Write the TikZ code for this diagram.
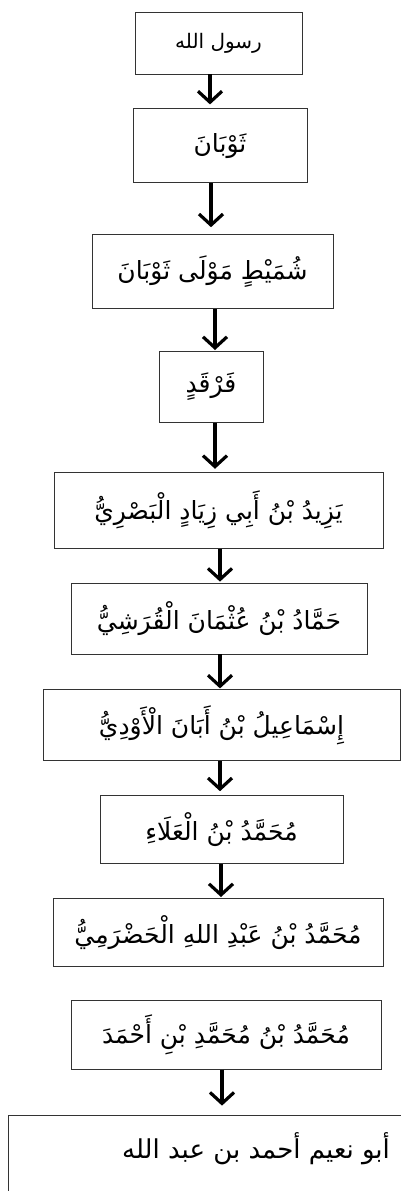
\documentclass[tikz,border=0pt]{standalone}
\usepackage{fontspec}
\newfontfamily\arabicfont[Script=Arabic]{DejaVu Sans}
\TeXXeTstate=1
\usetikzlibrary{positioning,arrows.meta}
\newcommand{\arb}[1]{\beginR #1\endR}

\begin{document}
\begin{tikzpicture}[x=1pt, y=1pt,
  isnad/.style={draw=black!80, line width=0.8pt, inner sep=0pt,
    font=\arabicfont\fontsize{25}{30}\selectfont},
  flow/.style={line width=3.2pt, line join=miter,
    -{Straight Barb[length=11pt, width=24pt]}}]

  \useasboundingbox (0,0) rectangle (401,-1191);

  \node[isnad, minimum width=167pt, minimum height=62pt,
    font=\arabicfont\fontsize{20}{24}\selectfont] (b1) at (218.5,-43) {\arb{رسول الله}};
  \node[isnad, minimum width=174pt, minimum height=74pt, below=34pt of b1, xshift=1.5pt] (b2) {\arb{ثَوْبَانَ}};
  \node[isnad, minimum width=241pt, minimum height=74pt, below=51pt of b2, xshift=-7.5pt] (b3) {\arb{شُمَيْطٍ مَوْلَى ثَوْبَانَ}};
  \node[isnad, minimum width=104pt, minimum height=71pt, below=42pt of b3, xshift=-1.5pt] (b4) {\arb{فَرْقَدٍ}};
  \node[isnad, minimum width=329pt, minimum height=76pt, below=49pt of b4, xshift=7.5pt] (b5) {\arb{يَزِيدُ بْنُ أَبِي زِيَادٍ الْبَصْرِيُّ}};
  \node[isnad, minimum width=296pt, minimum height=71pt, below=34pt of b5, xshift=0.5pt] (b6) {\arb{حَمَّادُ بْنُ عُثْمَانَ الْقُرَشِيُّ}};
  \node[isnad, minimum width=357pt, minimum height=71pt, below=35pt of b6, xshift=2.5pt] (b7) {\arb{إِسْمَاعِيلُ بْنُ أَبَانَ الْأَوْدِيُّ}};
  \node[isnad, minimum width=243pt, minimum height=68pt, below=34pt of b7] (b8) {\arb{مُحَمَّدُ بْنُ الْعَلَاءِ}};
  \node[isnad, minimum width=330pt, minimum height=68pt, below=34pt of b8, xshift=-3.5pt] (b9) {\arb{مُحَمَّدُ بْنُ عَبْدِ اللهِ الْحَضْرَمِيُّ}};
  % no arrow between these two
  \node[isnad, minimum width=310pt, minimum height=69pt, below=33pt of b9, xshift=8pt] (b10) {\arb{مُحَمَّدُ بْنُ مُحَمَّدِ بْنِ أَحْمَدَ}};
  \node[isnad, minimum width=496pt, text height=43pt, text depth=100pt,
    font=\arabicfont\fontsize{26}{31}\selectfont, below=45pt of b10, xshift=30pt] (b11) {\arb{أبو نعيم أحمد بن عبد الله}};

  \foreach \a/\b/\d/\s in {b1/b2/-8.5/4, b2/b3/-9/7, b3/b4/2.5/1, b4/b5/4/3,
      b5/b6/1.5/1, b6/b7/1/1, b7/b8/-1.5/4, b8/b9/-0.5/1, b10/b11/-4/9} {
    \path (\a.south) ++(\d,0) coordinate (t);
    \draw[flow, shorten >=\s pt] (t) -- (t |- \b.north);
  }
\end{tikzpicture}
\end{document}
